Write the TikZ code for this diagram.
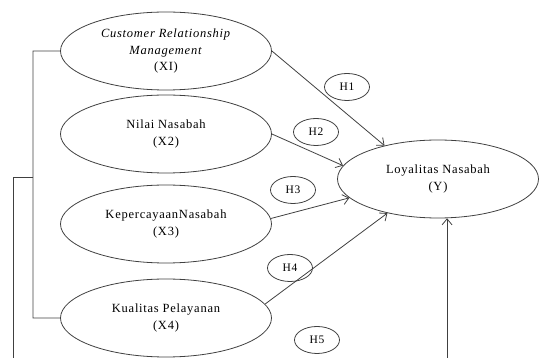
\documentclass[tikz,border=0pt]{standalone}
\usepackage{fontspec}
\setmainfont{Liberation Serif}[LetterSpace=6]
\usetikzlibrary{arrows.meta,shapes.geometric}
\definecolor{ln}{HTML}{404040}
\tikzset{
  var/.style={draw=ln, line width=0.8pt, ellipse, inner sep=0pt, minimum width=211pt, minimum height=78pt, align=center, font=\fontsize{12.5}{16.5}\selectfont, text=black},
  hyp/.style={draw=ln, line width=0.8pt, ellipse, inner sep=0pt, minimum width=45pt, minimum height=27pt, font=\fontsize{11.5}{14}\selectfont},
  conn/.style={draw=ln, line width=0.8pt},
  arr/.style={conn, -{Straight Barb[length=6pt,width=10pt,line width=0.8pt]}}
}
\begin{document}
\begin{tikzpicture}[x=1pt,y=-1pt]
\useasboundingbox (0,0) rectangle (539,358);
\clip (0,0) rectangle (539,358);
\node[var] (x1) at (166,51) {\textit{Customer Relationship}\\\textit{Management}\\(XI)};
\node[var] (x2) at (166,134) {Nilai Nasabah\\(X2)};
\node[var] (x3) at (166,224) {KepercayaanNasabah\\(X3)};
\node[var] (x4) at (166,318) {Kualitas Pelayanan\\(X4)};
\node[var, minimum width=201pt] (y) at (438,179) {Loyalitas Nasabah\\(Y)};
\node[hyp] (h1) at (347,87) {H1};
\node[hyp] (h2) at (316,132) {H2};
\node[hyp] (h3) at (293,190) {H3};
\node[hyp] (h4) at (290,268) {H4};
\node[hyp] (h5) at (317,340) {H5};
\draw[arr] (x1.east) -- (y.148);
\draw[arr] (x2.east) -- (y.172);
\draw[arr] (x3.3) -- (y.192);
\draw[arr] (x4.8) -- (y.214);
\coordinate (jn) at (33,177);
\draw[conn] (x1.west) -- ++(-27,0) -- (jn) |- (x4.west);
\draw[arr] (jn) -- ++(-20,0) -- ++(0,250) -| (y.-77);
\end{tikzpicture}
\end{document}
